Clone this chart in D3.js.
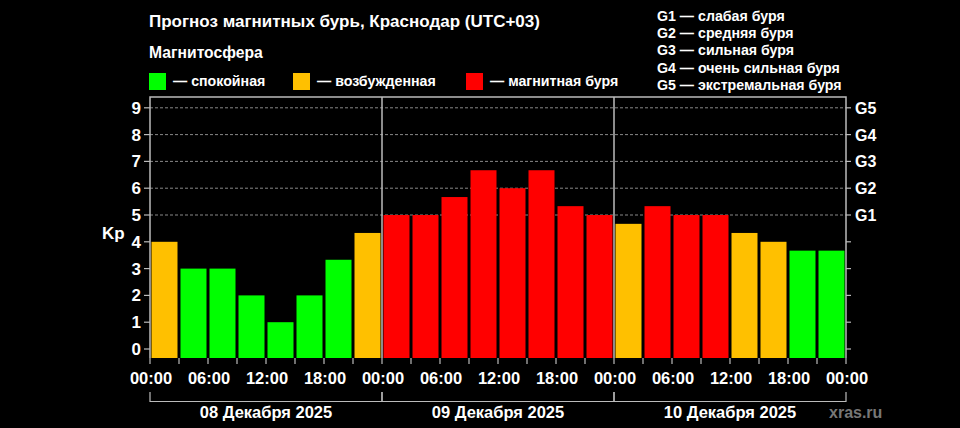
<!DOCTYPE html>
<html>
<head>
<meta charset="utf-8">
<script src="https://cdn.jsdelivr.net/npm/d3@7"></script>
<style>
  html, body { margin: 0; padding: 0; background: #000; }
  svg { display: block; }
  text { font-family: "Liberation Sans", Arial, sans-serif; font-weight: bold; fill: #fff; }
</style>
</head>
<body>
<svg id="chart" width="960" height="428"></svg>
<script>
// ---- data ----
const title = "Прогноз магнитных бурь, Краснодар (UTC+03)";
const legendTitle = "Магнитосфера";
const legendLabels = ["— спокойная", "— возбужденная", "— магнитная буря"];
const gLegend = ["G1 — слабая буря", "G2 — средняя буря", "G3 — сильная буря", "G4 — очень сильная буря", "G5 — экстремальная буря"];
const days = ["08 Декабря 2025", "09 Декабря 2025", "10 Декабря 2025"];
const timeLabels = ["00:00", "06:00", "12:00", "18:00", "00:00", "06:00", "12:00", "18:00", "00:00", "06:00", "12:00", "18:00", "00:00"];
const yTicks = [0, 1, 2, 3, 4, 5, 6, 7, 8, 9];
const gTicks = ["", "", "", "", "", "G1", "G2", "G3", "G4", "G5"];
const kp = [4, 3, 3, 2, 1, 2, 3.33, 4.33,
            5, 5, 5.67, 6.67, 6, 6.67, 5.33, 5,
            4.67, 5.33, 5, 5, 4.33, 4, 3.67, 3.67];
const kpLevel = [1, 0, 0, 0, 0, 0, 0, 1,
                 2, 2, 2, 2, 2, 2, 2, 2,
                 1, 2, 2, 2, 1, 1, 0, 0];
const levelColors = ["#00ff00", "#ffc000", "#ff0000"];

// ---- layout ----
const svg = d3.select("#chart");
const L = 150, R = 846, T = 97, B = 358;
const x = d3.scaleLinear().domain([0, 72]).range([L, R]);
const y = d3.scaleLinear().domain([0, 9]).range([349, 107.8]);

// title
svg.append("text").attr("x", 149).attr("y", 27).attr("font-size", 17).text(title);
svg.append("text").attr("x", 149).attr("y", 58).attr("font-size", 15.7).text(legendTitle);
const legX = [149, 293, 466];
legendLabels.forEach((t, i) => {
  svg.append("rect").attr("x", legX[i]).attr("y", 73).attr("width", 17).attr("height", 17).attr("fill", levelColors[i]);
  svg.append("text").attr("x", legX[i] + 24).attr("y", 86).attr("font-size", 14.2).text(t);
});
gLegend.forEach((t, i) => {
  svg.append("text").attr("x", 657).attr("y", 21 + i * 17.2).attr("font-size", 14.2).text(t);
});

// grid lines (G levels)
svg.append("g").selectAll("line").data([5, 6, 7, 8, 9]).join("line")
  .attr("x1", L).attr("x2", R).attr("y1", d => y(d)).attr("y2", d => y(d))
  .attr("stroke", "#888").attr("stroke-width", 1).attr("stroke-dasharray", "3,2");

// bars
const bw = x(3) - x(0);
svg.append("g").selectAll("rect").data(kp).join("rect")
  .attr("x", (d, i) => x(i * 3) + 1.5)
  .attr("width", bw - 3)
  .attr("y", d => y(d))
  .attr("height", d => B - y(d))
  .attr("fill", (d, i) => levelColors[kpLevel[i]]);

// frame
svg.append("path")
  .attr("d", `M${L},${B}V${T}H${R}V${B}`)
  .attr("fill", "none").attr("stroke", "#bbb").attr("stroke-width", 1.5);
// day separators
svg.append("g").selectAll("line").data([24, 48]).join("line")
  .attr("x1", d => x(d)).attr("x2", d => x(d)).attr("y1", T).attr("y2", B)
  .attr("stroke", "#bbb").attr("stroke-width", 1.5);

// left axis
const gl = svg.append("g");
yTicks.forEach(v => {
  gl.append("line").attr("x1", 144).attr("x2", L).attr("y1", y(v)).attr("y2", y(v)).attr("stroke", "#bbb").attr("stroke-width", 1.2);
  gl.append("text").attr("x", 141).attr("y", y(v) + 6).attr("text-anchor", "end").attr("font-size", 17).text(v);
});
svg.append("text").attr("x", 102).attr("y", 239).attr("font-size", 17).text("Kp");

// right axis
yTicks.forEach((v, i) => {
  svg.append("line").attr("x1", R).attr("x2", 851).attr("y1", y(v)).attr("y2", y(v)).attr("stroke", "#bbb").attr("stroke-width", 1.2);
  if (gTicks[i]) svg.append("text").attr("x", 855).attr("y", y(v) + 6).attr("font-size", 16).text(gTicks[i]);
});

// bottom ticks
svg.append("g").selectAll("line").data(d3.range(0, 73, 3)).join("line")
  .attr("x1", d => x(d)).attr("x2", d => x(d)).attr("y1", B).attr("y2", B + 6)
  .attr("stroke", "#bbb").attr("stroke-width", 1.2);

// time labels
timeLabels.forEach((t, i) => {
  svg.append("text").attr("x", x(i * 6) + 1).attr("y", 383.5)
    .attr("text-anchor", "middle").attr("font-size", 16.5).text(t);
});

// day brackets
days.forEach((d, i) => {
  const x0 = x(i * 24), x1 = x((i + 1) * 24);
  svg.append("path").attr("d", `M${x0},392V401.5H${x1}V392`).attr("fill", "none").attr("stroke", "#bbb").attr("stroke-width", 1.2);
  svg.append("text").attr("x", (x0 + x1) / 2).attr("y", 418)
    .attr("text-anchor", "middle").attr("font-size", 16.5).text(d);
});
svg.append("text").attr("x", 829).attr("y", 418).attr("font-size", 16)
  .style("fill", "#777").text("xras.ru");
</script>
</body>
</html>
